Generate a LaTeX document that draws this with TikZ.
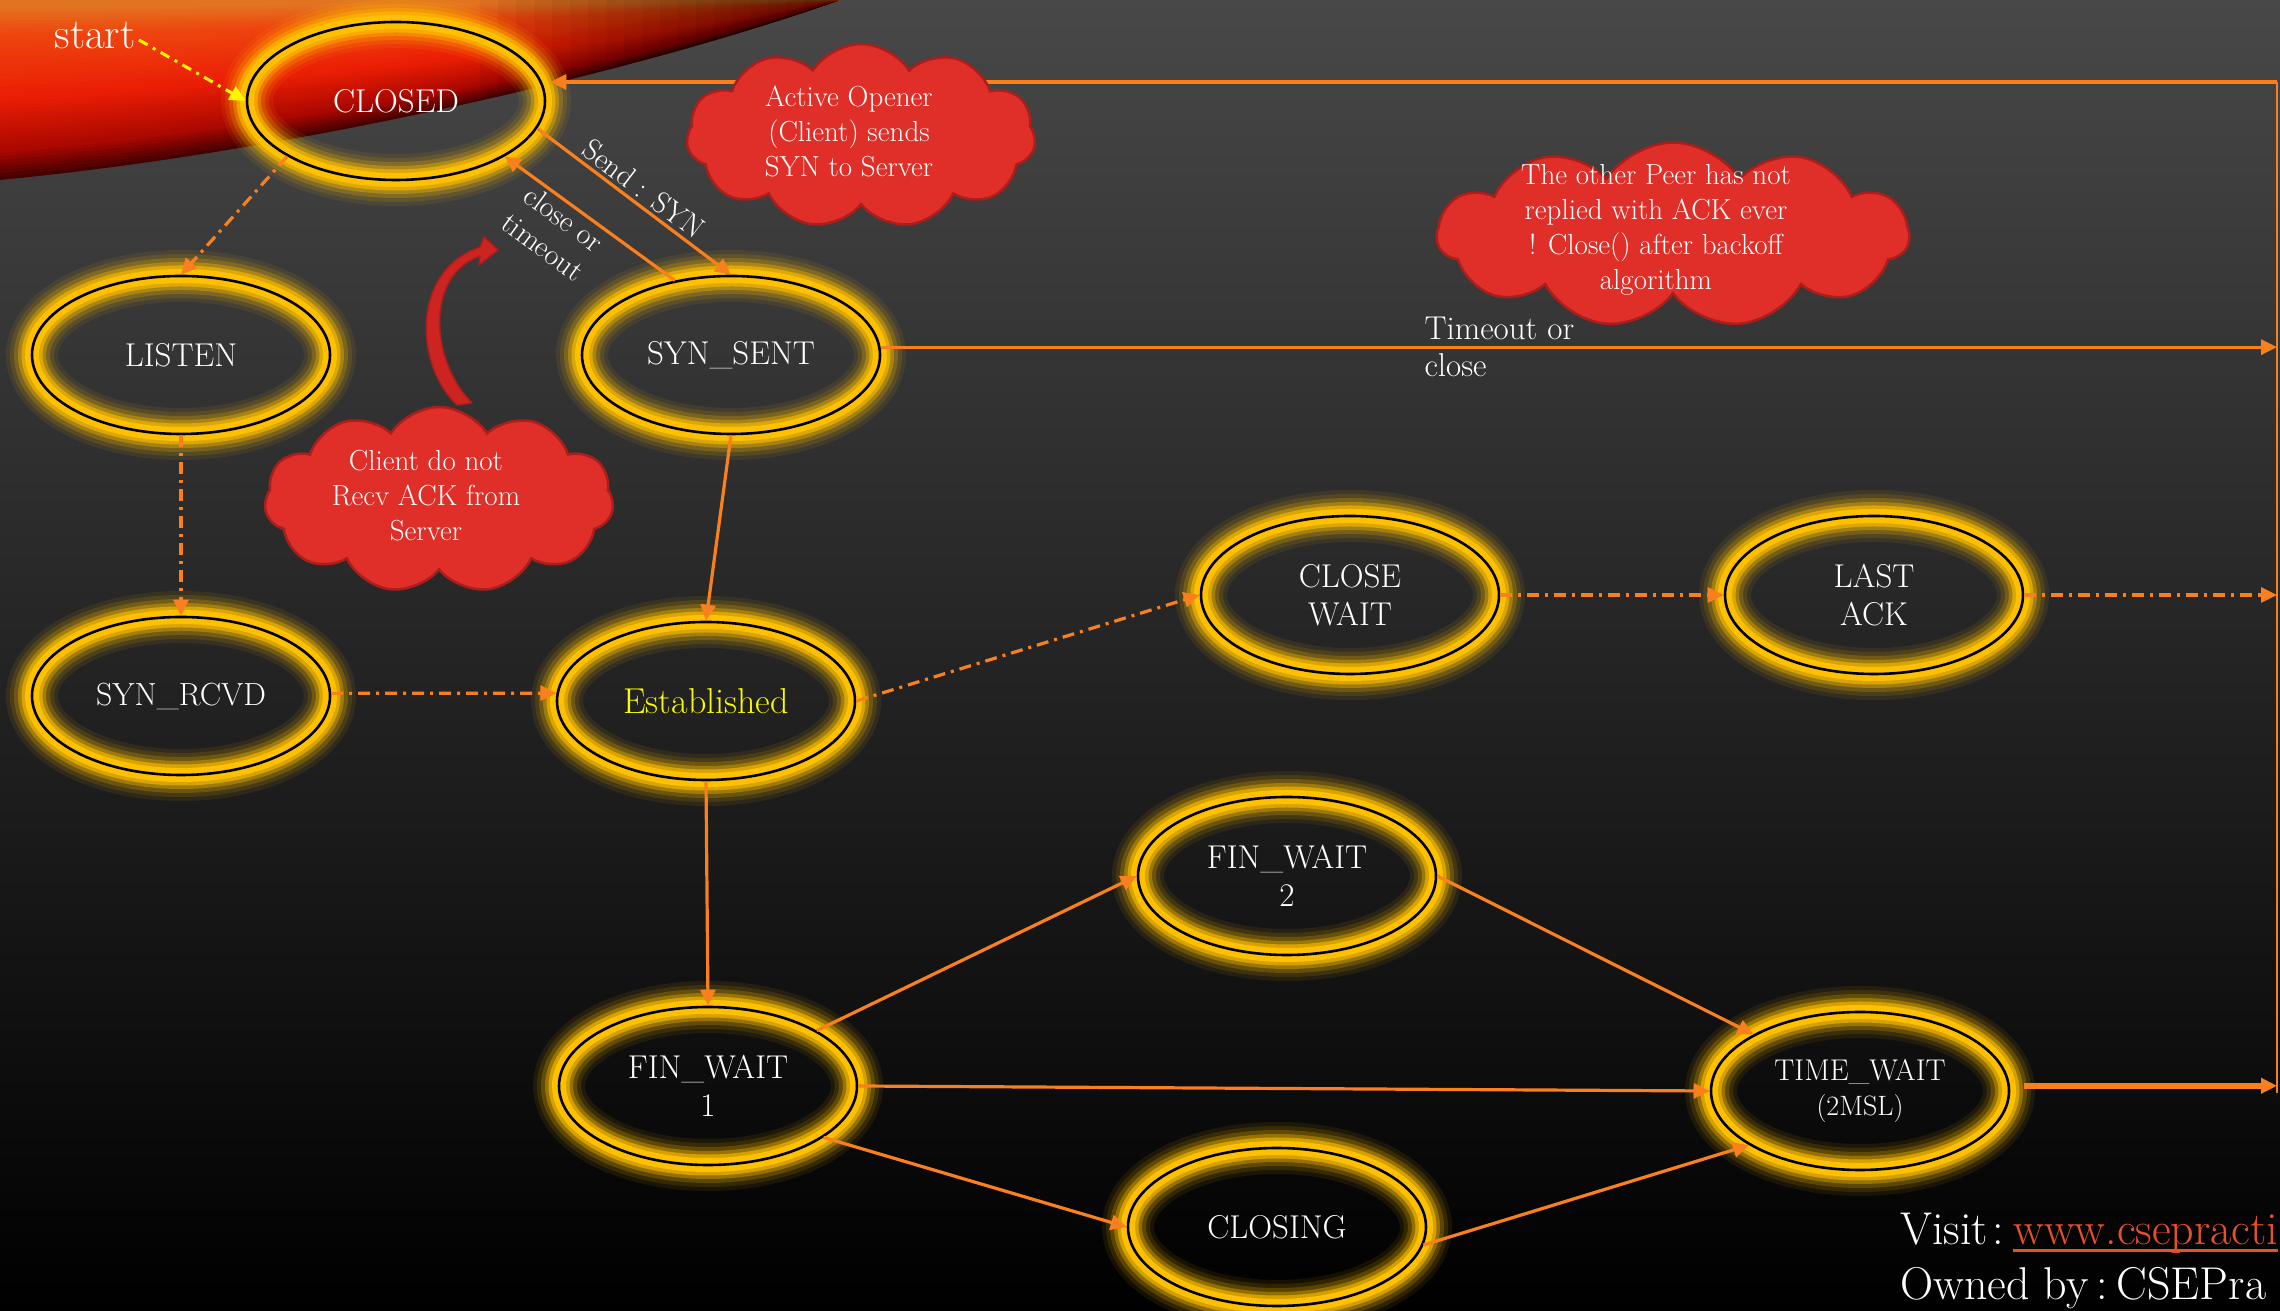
\documentclass[tikz,border=0pt]{standalone}
\usepackage{fontspec}
\usetikzlibrary{shapes.geometric,shapes.symbols,arrows.meta}

\definecolor{bgtop}{RGB}{72,72,72}
\definecolor{bgbot}{RGB}{0,0,0}
\definecolor{glow}{RGB}{255,192,0}
\definecolor{edgeor}{RGB}{250,128,30}
\definecolor{estab}{RGB}{250,250,0}
\definecolor{startyel}{RGB}{255,245,0}
\definecolor{cloudfill}{RGB}{224,46,40}
\definecolor{cloudedge}{RGB}{170,30,28}
\definecolor{bendfill}{RGB}{205,36,34}
\definecolor{urlred}{RGB}{232,80,40}
\definecolor{swA}{RGB}{70,0,0}
\definecolor{swB}{RGB}{170,8,0}
\definecolor{swC}{RGB}{235,30,5}
\definecolor{swD}{RGB}{238,70,15}
\definecolor{swE}{RGB}{225,120,35}

\newcommand\fs[2]{\fontsize{#1}{#2}\selectfont}
\newcommand\ulinebox[1]{\setbox0\hbox{#1}\rlap{\rule[-7pt]{\wd0}{2.6pt}}\box0}

% outline of the sweeping streak in the top left corner, at depth #1 (0 = lower rim)
\newcommand\swpath[1]{(0,1311) -- (840,1311)
      .. controls (640,{1240+71*#1}) and (300,{1160+151*#1}) .. (0,{1131+180*#1}) -- cycle}
% one band of colours of that streak
\newcommand\swseg[5]{%
  \foreach \k in {0,...,#3}{%
    \pgfmathsetmacro\ff{#1+(#2-#1)*\k/(#3+1)}%
    \pgfmathtruncatemacro\pp{100*\k/(#3+1)}%
    \fill[#5!\pp!#4] \swpath{\ff};}}

\tikzset{
  state/.style={ellipse, minimum width=298pt, minimum height=158pt, inner sep=0pt,
    draw=black, line width=2.6pt, text=white, align=center, font=\fs{33}{38},
    preaction={draw=glow, draw opacity=.08, line width=52pt},
    preaction={draw=glow, draw opacity=.12, line width=44pt},
    preaction={draw=glow, draw opacity=.20, line width=36pt},
    preaction={draw=glow, draw opacity=.35, line width=28pt},
    preaction={draw=glow, draw opacity=.60, line width=21pt},
    preaction={draw=glow, line width=14pt}},
  flow/.style={draw=edgeor, line width=3.2pt, -{Triangle[length=16pt,width=15pt]}},
  dashflow/.style={flow, dash pattern=on 12pt off 6pt on 3pt off 6pt},
  bubble/.style={cloud, cloud puffs=11, cloud puff arc=115, cloud ignores aspect,
    fill=cloudfill, draw=cloudedge, line width=2.5pt, inner sep=0pt},
  bubbletext/.style={text=white, align=center, font=\fs{29}{35}},
  lbl/.style={text=white, font=\fs{30}{35}, align=center},
}

\begin{document}
\begin{tikzpicture}[x=1pt, y=1pt]
\useasboundingbox (0,0) rectangle (2280,1311);
\begin{scope}
\clip (0,0) rectangle (2280,1311);

% backdrop
\shade[top color=bgtop, bottom color=bgbot] (0,0) rectangle (2280,1311);
\swseg{0}{0.15}{7}{swA}{swB}
\swseg{0.15}{0.45}{14}{swB}{swC}
\swseg{0.45}{0.8}{14}{swC}{swD}
\swseg{0.8}{0.97}{9}{swD}{swE}
\begin{scope}
  \clip \swpath{0};
  \foreach \i in {0,...,19}
    \fill[black, opacity=0.04] ({480+\i*18},1100) rectangle (900,1311);
\end{scope}

% states
\node[state] (closed) at (396,1210) {CLOSED};
\node[state] (listen) at (181,956) {LISTEN};
\node[state] (synsent) at (731,956) {SYN\_SENT};
\node[state, font=\fs{32}{38}] (synrcvd) at (181,615) {SYN\_RCVD};
\node[state, text=estab, font=\fs{36}{40}] (estab) at (706,610) {Established};
\node[state] (closewait) at (1350,716) {CLOSE\\WAIT};
\node[state] (lastack) at (1874,716) {LAST\\ACK};
\node[state] (finwait2) at (1287,435) {FIN\_WAIT\\2};
\node[state] (finwait1) at (708,225) {FIN\_WAIT\\1};
\node[state, font=\fs{30}{35}] (timewait) at (1860,220) {TIME\_WAIT\\{\fs{28}{35}(2MSL)}};
\node[state] (closing) at (1277,84) {CLOSING};

% return bus along the right edge
\coordinate (rtop) at (2277,1229);
\coordinate (rbot) at (2277,218);
\draw[edgeor, line width=2pt] (rbot) -- (rtop);
\draw[flow] (rtop) -- ([xshift=4pt]closed.east |- rtop);

% start marker
\node[text=white, font=\fs{43}{45}, anchor=base] (start) at (95,1262) {start};
\draw[startyel, line width=3pt, dash pattern=on 10pt off 6pt on 3pt off 6pt,
  -{Triangle[length=16pt,width=15pt]}] ([yshift=-4pt]start.east) -- (closed.west);

% transitions
\draw[flow] (closed.-11.9) -- node[lbl, sloped, above] (sendsyn) {Send : SYN} (synsent.north);
\draw[flow] (synsent.127.4) -- node[lbl, sloped, below, pos=0.6] (closeto) {close or\\timeout} (closed.-27.8);
\draw[flow] (synsent.3.5) -- node[lbl, pos=.386, anchor=west, align=left, font=\fs{33}{37}] (tmo) {Timeout or\\close} (synsent.3.5 -| rtop);
\draw[dashflow] (closed.207.6) -- (listen.north);
\draw[dashflow] (listen.south) -- (synrcvd.north);
\draw[dashflow] (synrcvd.1) -- (estab.177);
\draw[flow] (synsent.south) -- (estab.north);
\draw[dashflow] (estab.east) -- (closewait.west);
\draw[dashflow] (closewait.east) -- (lastack.west);
\draw[dashflow] (lastack.east) -- (lastack.east -| rtop);
\draw[flow] (estab.south) -- (finwait1.north);
\draw[flow] (finwait1.27.4) -- (finwait2.west);
\draw[flow] (finwait1.east) -- (timewait.west);
\draw[flow] (finwait1.-24.4) -- (closing.west);
\draw[flow] (finwait2.east) -- (timewait.152.6);
\draw[flow] (closing.-7) -- (timewait.206.6);
\draw[flow, line width=6pt, shorten <=14pt] (timewait.2.3) -- (timewait.2.3 -| rtop);

% callouts
\node[bubble, minimum width=349pt, minimum height=184pt] (opener) at (861,1175) {};
\node[bubbletext] (openertext) at (849,1180) {Active Opener\\(Client) sends\\SYN to Server};
\node[bubble, minimum width=472pt, minimum height=185pt] (peer) at (1673,1076) {};
\node[bubbletext] (peertext) at (1656,1081) {The other Peer has not\\replied with ACK ever\\! Close() after backoff\\algorithm};
\node[bubble, minimum width=349pt, minimum height=186pt] (client) at (439,811) {};
\node[bubbletext] (clienttext) at (426,815) {Client do not\\Recv ACK from\\Server};

% bent pointer from the lower callout
\filldraw[fill=bendfill, draw=cloudedge, line width=1.5pt, line join=round]
  (457,906) .. controls (415,945) and (410,1040) .. (480,1064)
  -- (484,1074) -- (498,1061) -- (479,1046) -- (480,1055)
  .. controls (425,1036) and (430,950) .. (472,908) -- cycle;

% footer
\node[anchor=base west, text=white, font=\fs{46}{55}, inner sep=0pt] (visit) at (1900,66)
  {Visit\hspace{5pt}:\hspace{9pt}{\color{urlred}\ulinebox{www.csepracti}}};
\node[anchor=base west, text=white, font=\fs{46}{55}, inner sep=0pt] (owner) at (1900,11)
  {Owned by\hspace{8pt}:\hspace{9pt}CSEPra};
\end{scope}
\end{tikzpicture}
\end{document}
